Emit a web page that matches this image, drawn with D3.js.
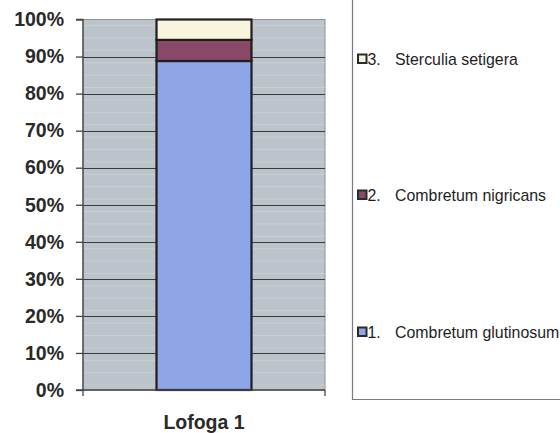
<!DOCTYPE html>
<html><head><meta charset="utf-8">
<script src="https://cdn.jsdelivr.net/npm/d3@7"></script>
<style>body{margin:0;background:#fff}svg{display:block}</style>
</head><body>
<svg id="c" width="560" height="433"></svg>
<script>
const categories = ["Lofoga 1"];
const seriesNames = ["1. Combretum glutinosum", "2. Combretum nigricans", "3. Sterculia setigera"];
const seriesValues = [[88.8], [5.7], [5.5]];
const seriesColors = ["#8fa6e6", "#8a4868", "#f8f5df"];
const yTicks = [0, 10, 20, 30, 40, 50, 60, 70, 80, 90, 100];

const svg = d3.select("#c");
const m = {left: 83, right: 325, top: 19.5, bottom: 390};
const x = d3.scaleBand().domain(categories).range([m.left, m.right]).paddingInner(0).paddingOuter(0.774);
const y = d3.scaleLinear().domain([0, 100]).range([m.bottom, m.top]);

// plot background
svg.append("rect").attr("x", m.left).attr("y", m.top).attr("width", m.right - m.left).attr("height", m.bottom - m.top)
  .attr("fill", "#bdc3cb").attr("stroke", "#8a9096").attr("stroke-width", 1);
// subtle horizontal streaks
const streaks = d3.range(m.top + 6, m.bottom, 12.4);
svg.append("g").selectAll("line").data(streaks).join("line")
  .attr("x1", m.left).attr("x2", m.right).attr("y1", d => d).attr("y2", d => d)
  .attr("stroke", "#c9d9de").attr("stroke-width", 1).attr("opacity", 0.6);

// gridlines
svg.append("g").selectAll("line").data(yTicks.filter(t => t > 0 && t < 100)).join("line")
  .attr("x1", m.left).attr("x2", m.right).attr("y1", d => Math.round(y(d)) + 0.5).attr("y2", d => Math.round(y(d)) + 0.5)
  .attr("stroke", "#3a3a3a").attr("stroke-width", 1);

// stacked bar
const stackData = categories.map((c, i) => {
  const o = {cat: c};
  seriesNames.forEach((s, j) => o[s] = seriesValues[j][i]);
  return o;
});
const stack = d3.stack().keys(seriesNames)(stackData);
const bw = x.bandwidth();
svg.append("g").selectAll("g").data(stack).join("g")
  .attr("fill", (d, i) => seriesColors[i])
  .selectAll("rect").data(d => d).join("rect")
  .attr("x", d => x(d.data.cat)).attr("width", bw)
  .attr("y", d => y(d[1])).attr("height", d => y(d[0]) - y(d[1]))
  .attr("stroke", "#1e1e1e").attr("stroke-width", 2.2);

// y axis
const yAxis = d3.axisLeft(y).tickValues(yTicks).tickFormat(d => d + "%").tickSize(7).tickPadding(12);
const gy = svg.append("g").attr("transform", `translate(${m.left},0)`).call(yAxis);
gy.select(".domain").attr("stroke", "#444").attr("stroke-width", 1.3).attr("d", `M-7,${m.top}H0V${m.bottom}H-7`);
gy.selectAll(".tick line").attr("stroke", "#444").attr("stroke-width", 1.3);
gy.selectAll("text").attr("font-family", "Liberation Sans, Arial, sans-serif").attr("font-weight", "bold")
  .attr("font-size", 19.5).attr("fill", "#2a2a2a");

// x axis
const gx = svg.append("g").attr("transform", `translate(0,${m.bottom})`);
gx.append("line").attr("x1", m.left).attr("x2", m.right).attr("y1", 0).attr("y2", 0).attr("stroke", "#444").attr("stroke-width", 1.3);
gx.selectAll(".edge").data([m.left, m.right]).join("line").attr("class", "edge")
  .attr("x1", d => d).attr("x2", d => d).attr("y1", 0).attr("y2", 6).attr("stroke", "#444").attr("stroke-width", 1.3);
gx.selectAll("text").data(categories).join("text")
  .attr("x", d => x(d) + bw / 2).attr("y", 39).attr("text-anchor", "middle")
  .attr("font-family", "Liberation Sans, Arial, sans-serif").attr("font-weight", "bold").attr("font-size", 19.5)
  .attr("fill", "#2a2a2a").text(d => d);

// legend
svg.append("path").attr("d", "M352.5,-2V399.5H562").attr("fill", "none").attr("stroke", "#7a7a7a").attr("stroke-width", 1.2);
const legY = [332, 195, 59];
const lg = svg.append("g").selectAll("g").data(seriesNames).join("g")
  .attr("transform", (d, i) => `translate(358,${legY[i]})`);
lg.append("rect").attr("x", 0).attr("y", -4.5).attr("width", 8.5).attr("height", 8.5)
  .attr("fill", (d, i) => seriesColors[i]).attr("stroke", "#2a2a2a").attr("stroke-width", 2);
const lt = lg.append("text").attr("y", 5.5).attr("font-family", "Liberation Sans, Arial, sans-serif")
  .attr("font-size", 15.9).attr("fill", "#1e1e1e");
lt.append("tspan").attr("x", 9.5).text(d => d.slice(0, d.indexOf(" ")));
lt.append("tspan").attr("x", 37).text(d => d.slice(d.indexOf(" ") + 1));
</script>
</body></html>
